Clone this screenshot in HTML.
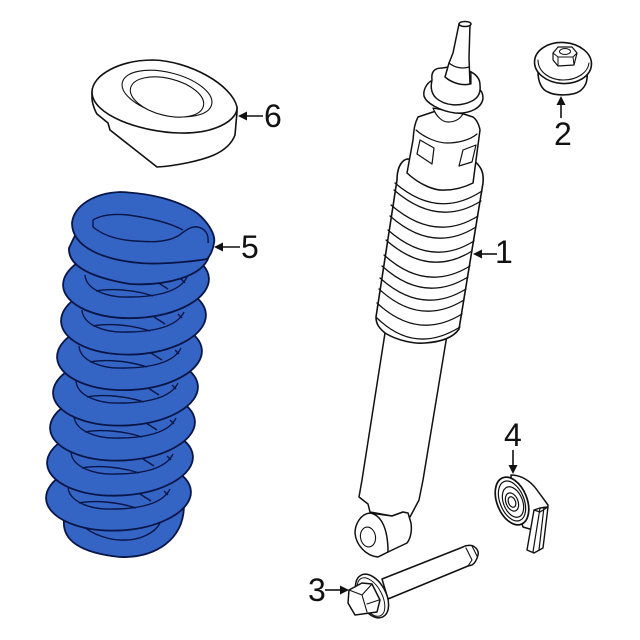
<!DOCTYPE html>
<html><head><meta charset="utf-8"><style>
html,body{margin:0;padding:0;background:#fff;width:640px;height:640px;overflow:hidden}
svg{display:block}
text{font-family:"Liberation Sans",sans-serif;font-size:32px;fill:#111}
</style></head><body>
<svg width="640" height="640" viewBox="0 0 640 640" xmlns="http://www.w3.org/2000/svg">
<defs>
<g id="hole">
<path d="M85,275 C86,290 108,298 130,297 C155,297 180,292 187,277" fill="none"/>
<path d="M96,291 C112,288 135,290 153,296" fill="none"/>
<path d="M157,282 L168,289 M181,279 L185,283" fill="none"/>
</g>
</defs>
<rect width="640" height="640" fill="#fff"/>

<!-- spring -->
<g fill="#3565c4" stroke="#081548" stroke-width="1.8" stroke-linejoin="round">
<path d="M64,520 C62,540 80,553 120,557 C155,558 184,540 184,505 L184,480 L70,490 Z"/>
<path d="M82,525 C92,535 112,541 125,540 C140,540 155,533 160,523" fill="none" stroke-width="1.4"/>
<ellipse cx="118.500" cy="495" rx="72.500" ry="35.500" transform="rotate(-3 118 495)"/>
<use href="#hole" transform="translate(-17,212)" stroke-width="1.4"/>
<ellipse cx="120" cy="460" rx="73" ry="35.500" transform="rotate(-3 120 460)"/>
<use href="#hole" transform="translate(-14,177)" stroke-width="1.4"/>
<ellipse cx="122.500" cy="425" rx="72.500" ry="35.500" transform="rotate(-3 122 425)"/>
<use href="#hole" transform="translate(-11,141)" stroke-width="1.4"/>
<ellipse cx="125.500" cy="390" rx="72.500" ry="35.500" transform="rotate(-3 125 390)"/>
<use href="#hole" transform="translate(-9,106)" stroke-width="1.4"/>
<ellipse cx="129.500" cy="354" rx="72.500" ry="36" transform="rotate(-3 129 354)"/>
<use href="#hole" transform="translate(-6,71)" stroke-width="1.4"/>
<ellipse cx="133.500" cy="318" rx="72.500" ry="36.500" transform="rotate(-3 133 318)"/>
<use href="#hole" transform="translate(-3,35)" stroke-width="1.4"/>
<ellipse cx="136" cy="282" rx="73" ry="36" transform="rotate(-3 136 282)"/>
<use href="#hole" stroke-width="1.4"/>
<path d="M69,248 C68,262 82,276 130,284 C165,286 203,277 209,256 C211,245 208,235 200,230 L80,225 Z"/>
<path d="M72,223 C74,205 95,193 120,192 C150,193 178,200 197,213 C208,222 216,235 214,243 C213,250 210,256 207,259 C196,261 160,265 140,263 C105,260 72,248 72,223 Z"/>
<path d="M93,220 C103,214 118,214 128,215 C150,218 170,223 183,230" fill="none" stroke-width="1.4"/>
<path d="M93,220 L93,227 C104,236 118,240 135,241 C150,242 165,243 178,236 C185,231 190,226 197,227 C205,228 209,234 208,243" fill="none" stroke-width="1.4"/>
</g>

<g fill="#fff" stroke="#111" stroke-width="1.5" stroke-linejoin="round" stroke-linecap="round">
<!-- seat 6 -->
<path d="M92,92 L92,98 C92,103 95,111 97,114 L108,123 L110,130 L157,167 C175,166 200,161 214,155 C225,150 232,143 235,135 L237,112 L237,107 L150,100 Z" stroke-width="1.6"/>
<path d="M92,92 C92,75 120,60 153,60 C190,61 232,85 237,107 C238,120 215,134 180,133 C140,132 92,115 92,92 Z" stroke-width="1.6"/>
<ellipse cx="167" cy="93.500" rx="46" ry="21" transform="rotate(14 167 93.500)" stroke-width="1.1"/>
<ellipse cx="167" cy="97" rx="37.500" ry="18.500" transform="rotate(14 167 97)" stroke-width="1.1"/>

<!-- lower tube + eye -->
<path d="M385,333 L362,480 L359,497 L368,504 L370,512 L392,516 L403,512 L410,517 L419,500 L423,480 L447,335 Z"/>
<path d="M370,513 C360,514 355,525 355,533 C356,545 366,556 378,557 L388,552 L407,543 C411,538 412,530 411,523 L408,513 L403,512 L392,516 Z"/>
<path d="M370,513 C382,515 388,530 388,552" fill="none"/>
<ellipse cx="368" cy="537" rx="7.500" ry="10" transform="rotate(-10 368 537)" stroke-width="1.1"/>

<!-- boot -->
<path d="M407,159 C400,161 397,170 397,180 L376,317 C376,324 379,328 385,333 C398,341 415,344 425,343 C440,342 453,338 459,329 L483,183 C484,172 481,166 473,160 Z" stroke-width="1.6"/>
<g fill="none" stroke-width="1.3">
<path d="M395,183 Q438,220 482,191"/>
<path d="M394,190 Q438,228 481,201"/>
<path d="M391,205 Q435,243 478,216"/>
<path d="M390,216 Q433,254 476,227"/>
<path d="M388,230 Q431,268 474,241"/>
<path d="M386,240 Q429,278 472,251"/>
<path d="M384,255 Q426,293 470,266"/>
<path d="M382,266 Q424,304 468,277"/>
<path d="M380,278 Q422,316 466,289"/>
<path d="M379,289 Q420,327 464,300"/>
<path d="M377,303 Q418,341 462,314"/>
<path d="M377,318 Q415,355 460,327"/>
</g>

<!-- upper body -->
<path d="M418,117 C414,125 414,130 413,140 L407,173 C420,185 435,191 445,190 C455,190 465,187 473,183 L480,130 C479,124 476,119 473,117 L445,108 Z"/>
<path d="M416,130 C425,138 438,143 447,143 C458,143 470,140 477,134" fill="none" stroke-width="1.2"/>
<path d="M420,140 L434,148 L432,164 L417,154 Z" stroke-width="1.2"/>
<path d="M463,150 L476,145 L472,162 L459,166 Z" stroke-width="1.2"/>

<!-- top mount -->
<path d="M433,108 C436,116 442,122 448,122 C455,122 460,119 463,114 Z" stroke-width="1.2"/>
<path d="M431,81 C426,84 423,91 424,96 C426,103 440,111 455,113 C470,114 482,108 483,98 C483,93 481,90 478,88 L440,80 Z"/>
<path d="M432,80 C431,72 434,68 442,68 L449,67 L469,71 C476,74 480,79 480,85 C481,93 478,98 472,101 C460,107 445,106 436,98 C430,92 431,85 432,80 Z"/>
<path d="M459,24 L453,53 L449,63 L445,77 C452,83 462,86 470,84 L469,58 L470,24 Z"/>
<path d="M449,63 C455,68 463,69 469,67" fill="none" stroke-width="1.2"/>
<ellipse cx="465" cy="24" rx="6" ry="2.500"/>
<path d="M471,72 L471,84" fill="none" stroke-width="1.2"/>

<!-- nut 2 -->
<path d="M538,72 C538,82 542,90 548,92 C555,96 573,96 580,91 C585,87 588,82 587,72 Z" stroke-width="1.6"/>
<ellipse cx="563" cy="63" rx="28.500" ry="20.500" transform="rotate(4 563 63)" stroke-width="1.6"/>
<path d="M538,60 C538,72 550,80 563,80 C578,80 588,72 589,63" fill="none" stroke-width="1.1"/>
<path d="M553,53 L558,47 L572,47 L577,53 L574,65 L558,66 L553,60 Z" stroke-width="1.2"/>
<path d="M553,53 L558,57 L573,57 L577,53 M558,57 L558,66 M573,57 L574,65" fill="none" stroke-width="1"/>
<ellipse cx="565" cy="51.500" rx="5.500" ry="3" stroke-width="1"/>

<!-- bolt 3 -->
<path d="M382,579 L463,547 C466,545 472,545 473,546 C477,548 479,552 478,555 C477,560 474,564 472,565 L468,566 L388,599 Z"/>
<path d="M466,548 L472,560 L468,566 M472,546 L477,556" fill="none" stroke-width="1.1"/>
<ellipse cx="372" cy="596" rx="14" ry="23.500" transform="rotate(-28 372 596)"/>
<ellipse cx="371" cy="597" rx="11" ry="21" transform="rotate(-28 371 597)" stroke-width="1"/>
<path d="M349,590 L362,583 L372,584 L380,600 L377,612 L355,615 L348,603 Z"/>
<path d="M349,590 L362,595 L372,584 M362,595 L367,612 M367,604 L379,600" fill="none" stroke-width="1.1"/>

<!-- bracket 4 -->
<path d="M511,475 C520,475 530,480 537,490 L548,505 L546,518 L538,526 L533,530 L523,527 L512,490 Z"/>
<ellipse cx="512" cy="501" rx="15" ry="25" transform="rotate(-22 512 501)" stroke-width="1.7"/>
<ellipse cx="512" cy="501" rx="12" ry="21" transform="rotate(-22 512 501)" stroke-width="1.2"/>
<ellipse cx="513" cy="502" rx="9.500" ry="16" transform="rotate(-22 513 502)" stroke-width="1.2"/>
<ellipse cx="512" cy="502" rx="6" ry="9.500" transform="rotate(-22 512 502)" stroke-width="1.2"/>
<ellipse cx="512" cy="502" rx="3.500" ry="5.500" transform="rotate(-22 512 502)" stroke-width="1.2"/>
<path d="M534,510 L540,508 L548,507 L543,548 L534,553 L527,550 Z" stroke-width="1.4"/>
<path d="M540,508 L533,552 M544,507 L539,550 M534,510 L540,512 L548,507" fill="none" stroke-width="1.2"/>
</g>

<!-- callouts -->
<g stroke="#111" stroke-width="1.6" fill="none">
<path d="M244,116 L263,116"/>
<path d="M222,247 L240,247"/>
<path d="M481,254 L497,254"/>
<path d="M561,104 L561,118"/>
<path d="M325,590 L340,590"/>
<path d="M513,450 L513,466"/>
</g>
<g fill="#111" stroke="none">
<polygon points="238,116 247,111.500 247,120.500"/>
<polygon points="214,247 223,242.500 223,251.500"/>
<polygon points="473,254 482,249.500 482,258.500"/>
<polygon points="561,96 556.500,105 565.500,105"/>
<polygon points="349,590 340,585.500 340,594.500"/>
<polygon points="513,474 508.500,465 517.500,465"/>
</g>
<text x="264" y="127">6</text>
<text x="241" y="258">5</text>
<text x="495" y="263">1</text>
<text x="554" y="145">2</text>
<text x="308" y="601">3</text>
<text x="504" y="446">4</text>
</svg>
</body></html>
